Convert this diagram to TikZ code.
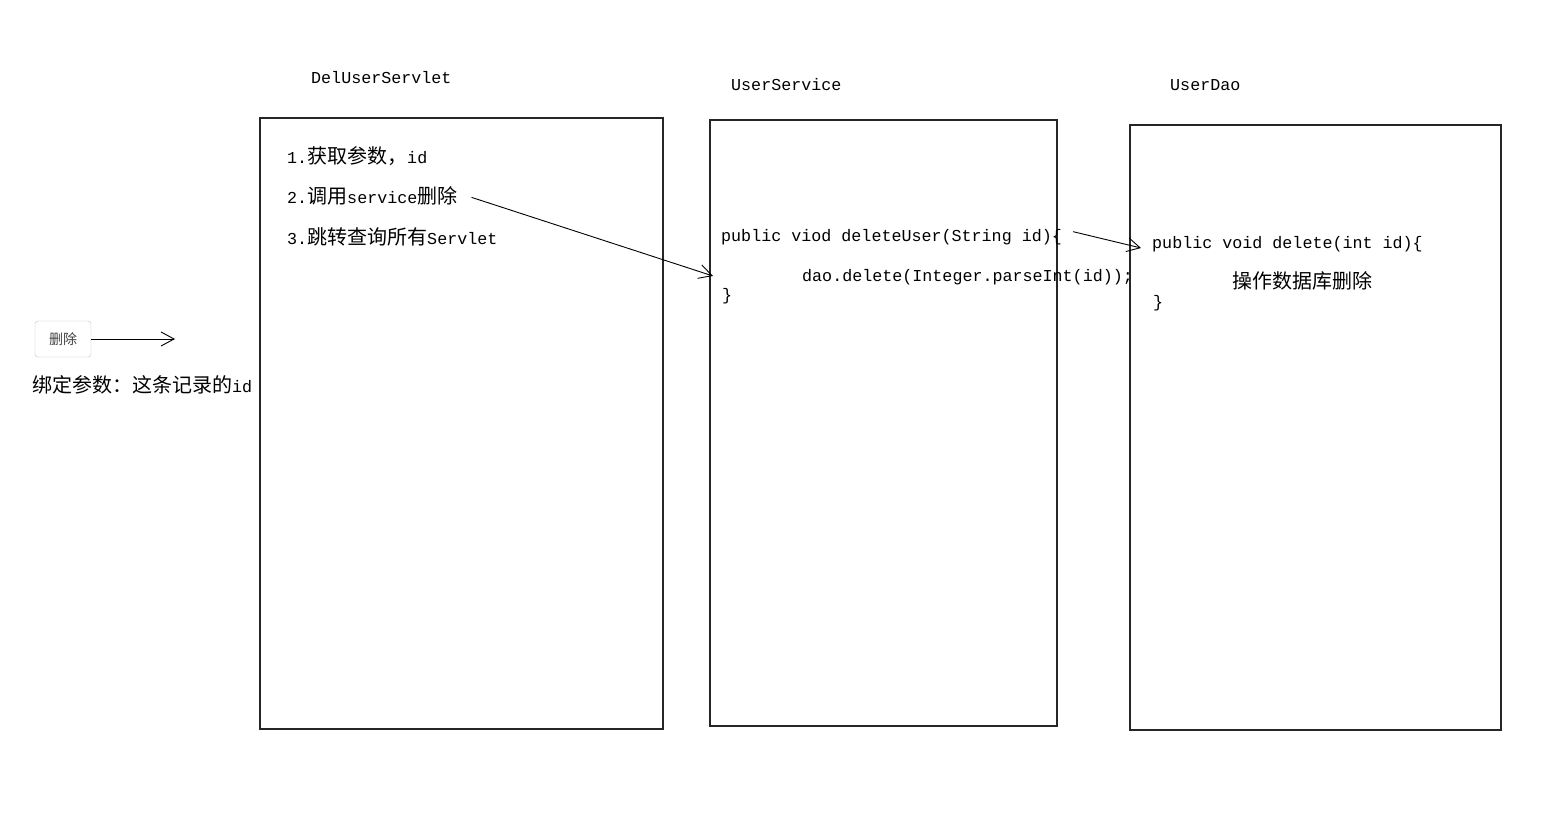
\documentclass[tikz,border=0pt]{standalone}
\usepackage{fontspec}
\setmainfont{Liberation Mono}
\newfontfamily\cjk{Noto Sans CJK SC}
\usetikzlibrary{arrows.meta}
\newcommand\zh[1]{{\cjk\fontsize{20}{22}\selectfont #1}}
\tikzset{
 txt/.style={anchor=base west, inner sep=0pt, font=\fontsize{16.7}{20}\selectfont},
 panel/.style={draw=black!85, line width=1.1pt, rectangle, inner sep=0pt},
 arr/.style={-{Straight Barb[length=13pt,width=14pt]}, line width=0.9pt},
 btn/.style={draw=black!25, fill=white, rounded corners=3pt, minimum width=56pt, minimum height=36pt, inner sep=0pt, font=\cjk\fontsize{14}{15}\selectfont, text=black!75},
}
\begin{document}
\begin{tikzpicture}[x=1pt,y=-1pt]
\useasboundingbox (0,0) rectangle (1556,837);
% panels
\node[panel, minimum width=403pt, minimum height=611pt] (servlet) at (461.5,423.5) {};
\node[panel, minimum width=347pt, minimum height=606pt] (service) at (883.5,423) {};
\node[panel, minimum width=371pt, minimum height=605pt] (dao) at (1315.5,427.5) {};
% titles
\node[txt] (t1) at (311,84) {DelUserServlet};
\node[txt] (t2) at (731,91) {UserService};
\node[txt] (t3) at (1170,91) {UserDao};
% servlet steps
\node[txt] (s1) at (287,164) {1.\zh{获取参数，}id};
\node[txt] (s2) at (287,204) {2.\zh{调用}service\zh{删除}};
\node[txt] (s3) at (287,244) {3.\zh{跳转查询所有}Servlet};
% service code
\node[txt] (c1) at (721,242) {public viod deleteUser(String id)\{};
\node[txt] (c2) at (802,282) {dao.delete(Integer.parseInt(id));};
\node[txt] (c3) at (722,301) {\}};
% dao code
\node[txt] (d1) at (1152,248) {public void delete(int id)\{};
\node[txt] (d2) at (1232,288) {\zh{操作数据库删除}};
\node[txt] (d3) at (1153,307) {\}};
% button
\node[btn] (btn) at (63,339) {删除};
\node[txt] (bind) at (32,392) {\zh{绑定参数：这条记录的}id};
\coordinate (e1) at (175,339);
\coordinate (e2) at (713,276);
\coordinate (e3) at (1141,248);
\draw[arr] (btn.east) -- (e1);
\draw[arr] ([xshift=14pt,yshift=-1pt]s2.east) -- (e2);
\draw[arr] ([xshift=11pt,yshift=6pt]c1.east) -- (e3);
\end{tikzpicture}
\end{document}
